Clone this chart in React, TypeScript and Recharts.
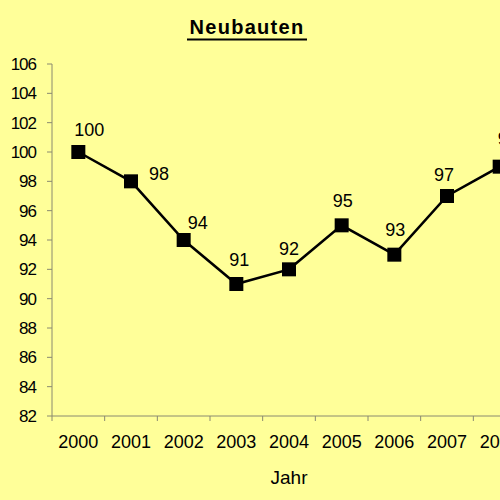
import { LineChart, Line, XAxis, YAxis, LabelList } from 'recharts';

const years = ['2000', '2001', '2002', '2003', '2004', '2005', '2006', '2007', '2008'];
const values = [100, 98, 94, 91, 92, 95, 93, 97, 99];
const yTicks = [82, 84, 86, 88, 90, 92, 94, 96, 98, 100, 102, 104, 106];

// where Excel left each data label, relative to its point
const labelNudge: [number, number][] = [
  [11, -23], [28, -8], [14, -18], [3, -25], [0, -21], [1, -25], [1, -25], [-3, -22], [8, -28],
];

const FONT = '"Liberation Sans", Arial, sans-serif';
const BG = '#FFFF99';
const AXIS = '#8a8a70';

const data = years.map((year, i) => ({ pos: i, year, value: values[i] }));
// year centres plus the band edges between them
const xTicks = [-0.5, ...years.flatMap((_, i) => [i, i + 0.5])];

function YearTick(props: any) {
  const { x, y, payload } = props;
  const v = payload.value;
  if (!Number.isInteger(v)) {
    return <line x1={x} x2={x} y1={y - 5} y2={y} stroke={AXIS} strokeWidth={1} />;
  }
  return (
    <text x={x} y={y} dy={27} textAnchor="middle" fontFamily={FONT} fontSize={18} fill="#000">
      {years[v]}
    </text>
  );
}

function ValueTick(props: any) {
  const { x, y, payload } = props;
  return (
    <text x={x} y={y} dy={6} textAnchor="end" fontFamily={FONT} fontSize={17} letterSpacing={-1} fill="#000">
      {payload.value}
    </text>
  );
}

function SquareDot(props: any) {
  const { cx, cy } = props;
  if (cx == null || cy == null) return null;
  return <rect x={cx - 7} y={cy - 7} width={14} height={14} fill="#000" />;
}

function PointLabel(props: any) {
  const { x, y, value } = props;
  const i = props.index ?? values.indexOf(value);
  const [dx, dy] = labelNudge[i] || [0, -22];
  return (
    <text x={x + dx} y={y + dy} dy={6.5} textAnchor="middle" fontFamily={FONT} fontSize={18} fill="#000">
      {value}
    </text>
  );
}

export default function App() {
  return (
    <div style={{ position: 'absolute', left: 0, top: 0, width: 500, height: 500, overflow: 'hidden', background: BG }}>
      <LineChart width={560} height={500} data={data} margin={{ top: 64, right: 34, left: 0, bottom: 0 }}>
        <XAxis
          dataKey="pos"
          type="number"
          domain={[-0.5, 8.5]}
          ticks={xTicks}
          interval={0}
          height={84}
          tickSize={5}
          tickMargin={0}
          tickLine={false}
          tick={<YearTick />}
          axisLine={{ stroke: AXIS, strokeWidth: 1 }}
        />
        <YAxis
          domain={[82, 106]}
          ticks={yTicks}
          interval={0}
          width={52}
          tickSize={5}
          tickMargin={11}
          tick={<ValueTick />}
          tickLine={{ stroke: AXIS }}
          axisLine={{ stroke: AXIS, strokeWidth: 1 }}
        />
        <Line
          type="linear"
          dataKey="value"
          stroke="#000"
          strokeWidth={2.5}
          dot={<SquareDot />}
          activeDot={false}
          isAnimationActive={false}
        >
          <LabelList dataKey="value" content={<PointLabel />} />
        </Line>
      </LineChart>
      <svg width={500} height={500} style={{ position: 'absolute', left: 0, top: 0, pointerEvents: 'none' }}>
        <text x={247} y={34} textAnchor="middle" fontFamily={FONT} fontSize={20} fontWeight="bold" letterSpacing={1.3}>
          Neubauten
        </text>
        <line x1={187} x2={307} y1={39.5} y2={39.5} stroke="#000" strokeWidth={2} />
        <text x={289} y={484} textAnchor="middle" fontFamily={FONT} fontSize={19}>
          Jahr
        </text>
      </svg>
    </div>
  );
}
